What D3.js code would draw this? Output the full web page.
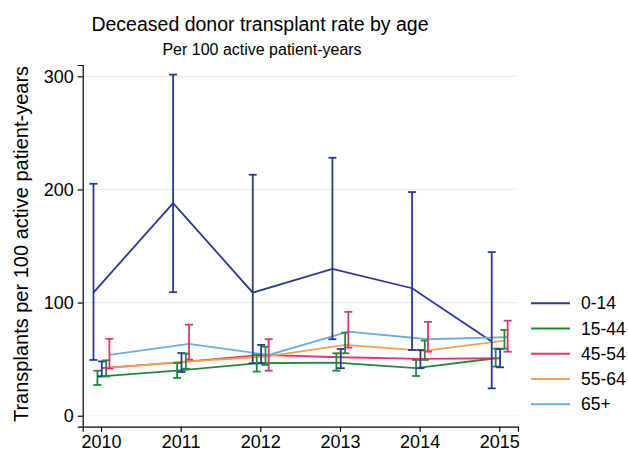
<!DOCTYPE html>
<html>
<head>
<meta charset="utf-8">
<script src="https://cdn.jsdelivr.net/npm/d3@7"></script>
<style>
  body { margin: 0; background: #fff; }
  text { font-family: "Liberation Sans", Arial, sans-serif; fill: #000; }
</style>
</head>
<body>
<div id="chart-area"></div>
<script>
// values
let years = [2010, 2011, 2012, 2013, 2014, 2015];
let groups = ["0-14", "15-44", "45-54", "55-64", "65+"];

let rate0_14  = [108.8, 188.0, 108.8, 129.8, 112.7, 65.5];
let low0_14   = [49.3, 109.2, 46.4, 67.6, 58.1, 24.2];
let high0_14  = [205.0, 301.5, 213.0, 228.0, 197.7, 144.6];

let rate15_44 = [34.5, 39.8, 46.4, 47.0, 42.0, 50.8];
let low15_44  = [27.2, 33.4, 39.0, 39.8, 35.1, 43.4];
let high15_44 = [39.8, 46.5, 53.7, 55.2, 49.3, 59.3];

let rate45_54 = [42.0, 47.3, 53.7, 51.7, 50.2, 50.8];
let low45_54  = [34.8, 38.6, 46.4, 42.0, 42.0, 42.8];
let high45_54 = [48.0, 55.4, 62.6, 59.0, 58.1, 59.0];

let rate55_64 = [42.0, 47.8, 52.2, 62.6, 57.3, 66.4];
let low55_64  = [34.8, 41.6, 44.9, 55.2, 49.3, 59.3];
let high55_64 = [49.0, 54.9, 61.0, 73.4, 66.4, 75.8];

let rate65    = [53.7, 63.5, 53.7, 74.3, 67.6, 69.4];
let low65     = [41.6, 49.6, 39.8, 60.2, 56.6, 56.6];
let high65    = [68.0, 80.5, 67.6, 91.8, 82.9, 84.0];

let yTicks = [0, 100, 200, 300];

let rates = [rate0_14, rate15_44, rate45_54, rate55_64, rate65];
let lows  = [low0_14, low15_44, low45_54, low55_64, low65];
let highs = [high0_14, high15_44, high45_54, high55_64, high65];

// styling
let lineColors = ["#2b3a8f", "#1e8a3e", "#e6336f", "#f5a04d", "#6aaedc"];
let barColors  = ["#2b3a8f", "#1e8a3e", "#2b3a8f", "#1e8a3e", "#e6336f"];
let offsets = [-0.095, -0.045, 0.01, 0.065, 0.105];

let width = 628, height = 457;
let svg = d3.select("#chart-area").append("svg")
    .attr("width", width).attr("height", height);

let x = d3.scaleLinear().domain([2009.77, 2015.235]).range([82.7, 518]);
let y = d3.scaleLinear().domain([-9.7, 310]).range([426.7, 65]);

// gridlines
svg.selectAll(".grid").data(yTicks).enter().append("line")
    .attr("x1", x.range()[0]).attr("x2", x.range()[1])
    .attr("y1", d => y(d)).attr("y2", d => y(d))
    .style("stroke", "#e8f0f1").style("stroke-width", 1.2);

// axes
let yAxis = svg.append("g").attr("transform", "translate(82.7,0)")
    .call(d3.axisLeft(y).tickValues(yTicks).tickSize(5).tickPadding(4));
let xAxis = svg.append("g").attr("transform", "translate(0,426.7)")
    .call(d3.axisBottom(x).tickValues(years).tickFormat(d3.format("d")).tickSize(5).tickPadding(4));
[yAxis, xAxis].forEach(a => {
    a.selectAll("text").style("font-size", "18px").style("font-family", "Liberation Sans, Arial, sans-serif");
    a.selectAll("line, path").style("stroke", "#000").style("stroke-width", 1.2);
});

let line = d3.line();

// series lines
groups.forEach((g, i) => {
    let pts = years.map((yr, j) => [x(yr + offsets[i]), y(rates[i][j])]);
    svg.append("path")
        .attr("d", line(pts))
        .style("fill", "none")
        .style("stroke", lineColors[i])
        .style("stroke-width", 1.8);
});

// error bars
groups.forEach((g, i) => {
    let bars = svg.append("g").style("stroke", barColors[i]).style("stroke-width", 1.8);
    years.forEach((yr, j) => {
        let cx = x(yr + offsets[i]);
        bars.append("line").attr("x1", cx).attr("x2", cx)
            .attr("y1", y(lows[i][j])).attr("y2", y(highs[i][j]));
        [lows[i][j], highs[i][j]].forEach(v => {
            bars.append("line").attr("x1", cx - 4).attr("x2", cx + 4)
                .attr("y1", y(v)).attr("y2", y(v));
        });
    });
});

// titles
svg.append("text").attr("x", 260).attr("y", 31)
    .attr("text-anchor", "middle").style("font-size", "19.5px")
    .text("Deceased donor transplant rate by age");
svg.append("text").attr("x", 262).attr("y", 55)
    .attr("text-anchor", "middle").style("font-size", "16px")
    .text("Per 100 active patient-years");
svg.append("text")
    .attr("transform", "translate(28,244) rotate(-90)")
    .attr("text-anchor", "middle").style("font-size", "20px")
    .text("Transplants per 100 active patient-years");

// legend
let legend = svg.selectAll(".legend").data(groups).enter().append("g")
    .attr("transform", (d, i) => "translate(531," + (303.3 + i * 25.25) + ")");
legend.append("line").attr("x1", 0).attr("x2", 39)
    .style("stroke", (d, i) => lineColors[i]).style("stroke-width", 2);
legend.append("text").attr("x", 50).attr("y", 0).attr("dy", "0.35em")
    .style("font-size", "17.5px").text(d => d);
</script>
</body>
</html>
